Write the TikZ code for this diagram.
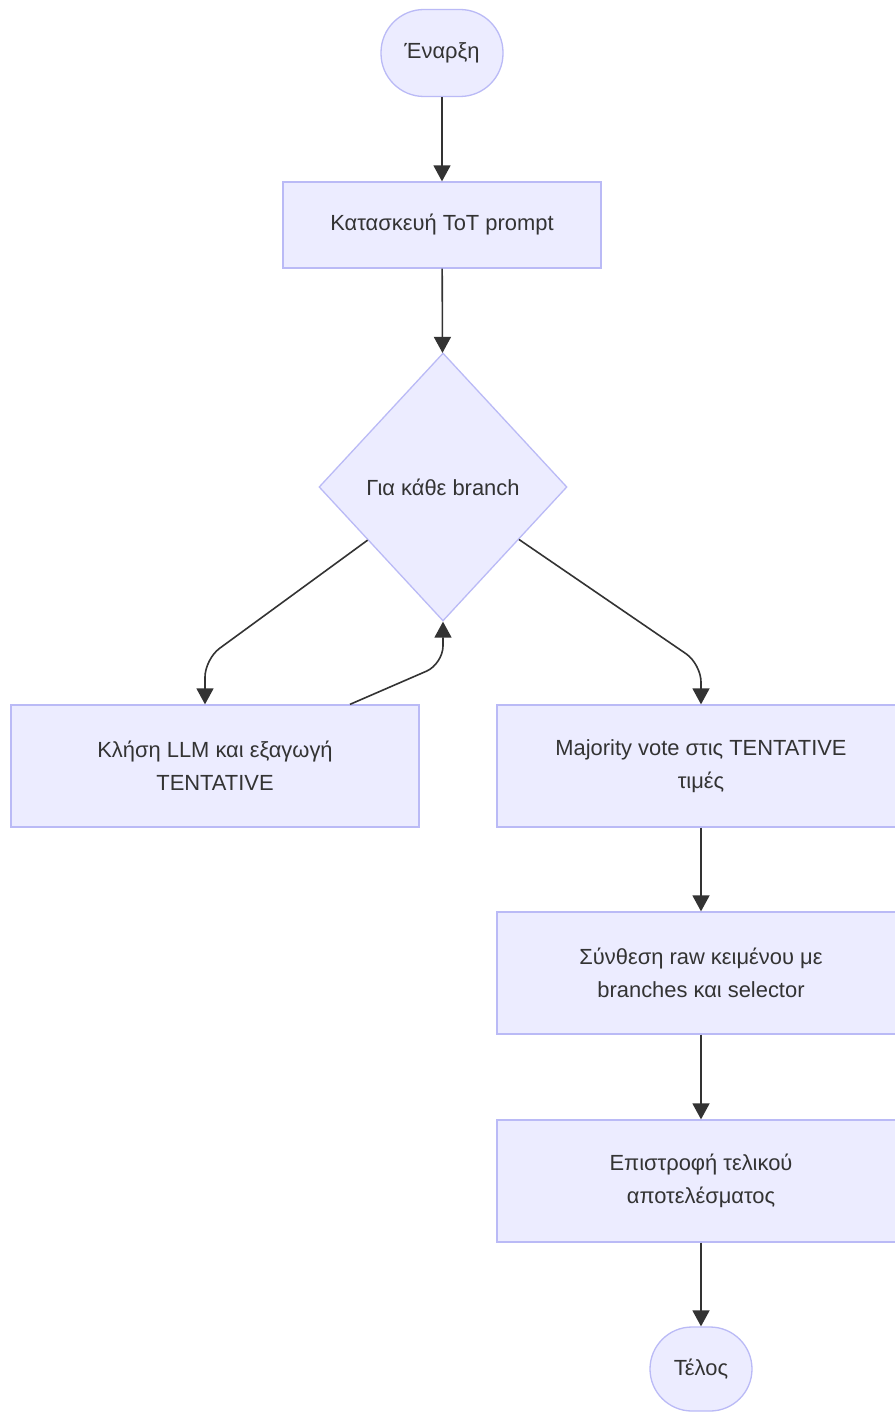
\documentclass[tikz,border=0pt]{standalone}
\usepackage{fontspec}
\setmainfont{Liberation Sans}
\usetikzlibrary{shapes.geometric,arrows.meta,calc}
\definecolor{nfill}{HTML}{ECECFF}
\definecolor{nborder}{HTML}{BABAF6}
\definecolor{ink}{HTML}{333333}
\begin{document}
\begin{tikzpicture}[x=1pt,y=-1pt,
  lbl/.style={font=\fontsize{21.9}{33}\selectfont, text=ink, align=center},
  procbox/.style={lbl, draw=nborder, fill=nfill, line width=1.3pt, rectangle, inner sep=0pt},
  termbox/.style={lbl, draw=nborder, fill=nfill, line width=1.3pt, rectangle, inner sep=0pt},
  decbox/.style={lbl, draw=nborder, fill=nfill, line width=1.3pt, diamond, inner sep=0pt, minimum width=248pt, minimum height=268pt},
  arr/.style={draw=ink, line width=1.6pt, -{Triangle[length=16pt,width=17pt]}, rounded corners=18pt}
]
\fill[white] (0,0) rectangle (894,1412);
\useasboundingbox (0,0) rectangle (894,1412);

\node[termbox, minimum width=122pt, minimum height=87pt, rounded corners=43pt] (start) at (442,53) {Έναρξη};
\node[procbox, minimum width=318pt, minimum height=86pt] (build) at (442,225) {Κατασκευή ToT prompt};
\node[decbox] (dia) at (443,487) {Για κάθε branch};
\node[procbox, minimum width=408pt, minimum height=122pt] (call) at (215,766) {Κλήση LLM και εξαγωγή\\TENTATIVE};
\node[procbox, minimum width=408pt, minimum height=122pt] (vote) at (701,766) {Majority vote στις TENTATIVE\\τιμές};
\node[procbox, minimum width=408pt, minimum height=122pt] (synth) at (701,973) {Σύνθεση raw κειμένου με\\branches και selector};
\node[procbox, minimum width=408pt, minimum height=122pt] (ret) at (701,1181) {Επιστροφή τελικού\\αποτελέσματος};
\node[termbox, minimum width=102pt, minimum height=84pt, rounded corners=42pt] (end) at (701,1369) {Τέλος};

\coordinate (cL) at (205,659);
\coordinate (cB) at (443,664);
\coordinate (cR) at (701,664);

\draw[arr] (start) -- (build);
\draw[arr] (build) -- (dia);
\draw[arr] ($(dia.west)!0.395!(dia.south)$) -- (cL) -- ($(call.north)+(-10,0)$);
\draw[arr] ($(call.north)+(135,0)$) -- (cB) -- (dia.south);
\draw[arr] ($(dia.east)!0.39!(dia.south)$) -- (cR) -- (vote.north);
\draw[arr] (vote) -- (synth);
\draw[arr] (synth) -- (ret);
\draw[arr] (ret) -- (end);
\end{tikzpicture}
\end{document}
